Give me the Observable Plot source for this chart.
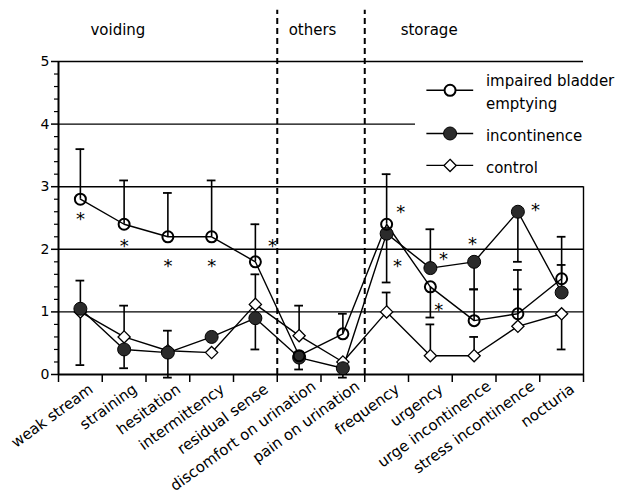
<!DOCTYPE html>
<html>
<head>
<meta charset="utf-8">
<script src="https://cdn.jsdelivr.net/npm/d3@7"></script>
<script src="https://cdn.jsdelivr.net/npm/@observablehq/plot@0.6"></script>
<style>
  html, body { margin: 0; padding: 0; background: #fff; }
</style>
</head>
<body>
<div id="chart"></div>
<script>
const categories = ["weak stream","straining","hesitation","intermittency","residual sense","discomfort on urination","pain on urination","frequency","urgency","urge incontinence","stress incontinence","nocturia"];
const impaired     = [2.8, 2.4, 2.2, 2.2, 1.8, 0.3, 0.65, 2.4, 1.4, 0.86, 0.97, 1.53];
const incontinence = [1.05, 0.4, 0.35, 0.6, 0.9, 0.27, 0.1, 2.25, 1.7, 1.8, 2.6, 1.31];
const control      = [1.0, 0.6, 0.38, 0.35, 1.12, 0.62, 0.2, 1.0, 0.3, 0.3, 0.77, 0.97];

// error bars: category index, from (mean), to (cap)
const errCat  = [0,0,0, 1,1,1, 2,2,2, 3, 4,4,4, 5,5, 6,6, 7,7,7, 8,8,8, 9,9,9, 10,10,10, 11,11,11];
const errFrom = [2.8,1.05,1.05, 2.4,0.6,0.4, 2.2,0.35,0.35, 2.2, 1.8,1.12,0.9, 0.62,0.27, 0.65,0.1, 2.4,2.25,1.0, 1.7,1.4,0.3, 1.8,0.86,0.3, 2.6,0.97,0.77, 1.53,1.31,0.97];
const errTo   = [3.6,1.5,0.15, 3.1,1.1,0.1, 2.9,0.7,-0.05, 3.1, 2.4,1.6,0.4, 1.1,0.08, 0.97,-0.05, 3.2,1.47,1.31, 2.32,0.91,0.8, 1.36,1.36,0.6, 1.8,1.67,1.36, 2.2,1.75,0.4];

// significance asterisks (fractional category index, value)
const astX = [0, 1, 2, 3, 4.39, 7.32, 7.25, 8.3, 8.19, 8.96, 10.4];
const astY = [2.54, 2.12, 1.8, 1.8, 2.12, 2.65, 1.79, 1.9, 1.09, 2.14, 2.68];

const groupNames = ["voiding", "others", "storage"];
const groupStart = [0.23, 4.76, 7.32];
const groupBreaks = [4.5, 6.5];

const yTicks = [0, 1, 2, 3, 4, 5];
const legendNames = ["impaired bladder\nemptying", "incontinence", "control"];

const rows = categories.map((c, i) => ({i, c, imp: impaired[i], inc: incontinence[i], ctl: control[i]}));
const errs = errCat.map((c, k) => ({i: c, from: errFrom[k], to: errTo[k]}));
const asts = astX.map((x, k) => ({x, y: astY[k]}));
const groups = groupNames.map((g, k) => ({g, x: groupStart[k]}));
const boundaries = d3.range(-0.5, categories.length, 1);
const minorTicks = d3.range(0, 5.001, 0.2).map(v => +v.toFixed(1)).filter(v => !Number.isInteger(v));
const shortLabels = rows.filter(d => d.c.length <= 15);
const longLabels = rows.filter(d => d.c.length > 15);

// legend layout (data coordinates inside the frame)
const legY = [4.54, 3.85, 3.34];
const leg = legendNames.map((n, k) => ({n, y: legY[k], k}));
const legX1 = 7.92, legX2 = 8.99, legXm = 8.45, legXt = 9.27;

const chart = Plot.plot({
  width: 623,
  height: 495,
  marginLeft: 58,
  marginRight: 40,
  marginTop: 61,
  marginBottom: 121,
  x: {domain: [-0.5, 11.5]},
  y: {domain: [0, 5]},
  style: {fontFamily: "DejaVu Sans", fontSize: "15px", color: "black", background: "white"},
  marks: [
    // gridlines / frame
    Plot.ruleY([1, 2, 3, 5], {y: d => d, x1: -0.5, x2: 11.5, stroke: "black", strokeWidth: 1.4}),
    Plot.ruleY([4], {y: d => d, x1: -0.5, x2: 7.66, stroke: "black", strokeWidth: 1.4}),
    Plot.ruleX([11.5], {x: d => d, y1: 0, y2: 3, stroke: "black", strokeWidth: 1.4}),
    Plot.ruleX([-0.5], {x: d => d, y1: 0, y2: 5, stroke: "black", strokeWidth: 2}),
    Plot.ruleY([0], {y: d => d, x1: -0.5, x2: 11.5, stroke: "black", strokeWidth: 2}),
    // group separators
    Plot.ruleX(groupBreaks, {x: d => d, y1: 0, y2: 5.82, stroke: "black", strokeWidth: 2, strokeDasharray: "6,4"}),
    Plot.text(groups, {x: "x", y: () => 5.5, text: "g", textAnchor: "start", fontSize: 15, fill: "black"}),
    // axes
    Plot.axisY({ticks: yTicks, tickSize: 7, tickPadding: 2, fontSize: 14, strokeWidth: 1.5, tickFormat: d => d, label: null, fill: "black"}),
    Plot.axisY({ticks: minorTicks, tickSize: 4, strokeWidth: 1.2, tickFormat: () => "", label: null}),
    Plot.axisX({ticks: boundaries, tickSize: 8, strokeWidth: 1.5, tickFormat: () => "", label: null}),
    Plot.text(shortLabels, {x: "i", y: () => 0, text: "c", rotate: -36, textAnchor: "end", lineAnchor: "middle", dx: 11, dy: 13, fontSize: 15, fill: "black"}),
    Plot.text(longLabels, {x: "i", y: () => 0, text: "c", rotate: -36, textAnchor: "end", lineAnchor: "middle", dx: 15, dy: 10, fontSize: 15, fill: "black"}),
    // series lines
    Plot.line(rows, {x: "i", y: "imp", stroke: "black", strokeWidth: 1.4}),
    Plot.line(rows, {x: "i", y: "inc", stroke: "black", strokeWidth: 1.4}),
    Plot.line(rows, {x: "i", y: "ctl", stroke: "black", strokeWidth: 1.4}),
    // error bars
    Plot.ruleX(errs, {x: "i", y1: "from", y2: "to", stroke: "black", strokeWidth: 1.6}),
    Plot.ruleY(errs, {y: "to", x1: d => d.i - 0.1, x2: d => d.i + 0.1, stroke: "black", strokeWidth: 1.8}),
    // markers
    Plot.dot(rows, {x: "i", y: "ctl", symbol: "diamond2", r: 5.5, fill: "white", stroke: "black", strokeWidth: 1.3}),
    Plot.dot(rows, {x: "i", y: "inc", r: 6.5, fill: "#2b2b2b", stroke: "black", strokeWidth: 1}),
    Plot.dot(rows, {x: "i", y: "imp", r: 5.5, fill: "none", stroke: "black", strokeWidth: 2}),
    // asterisks
    Plot.text(asts, {x: "x", y: "y", text: () => "*", fontSize: 18, lineAnchor: "middle", dy: 4, fill: "black"}),
    // legend
    Plot.ruleY(leg, {y: "y", x1: legX1, x2: legX2, stroke: "black", strokeWidth: 1.4}),
    Plot.dot(leg.filter(d => d.k === 0), {x: () => legXm, y: "y", r: 5.5, fill: "white", stroke: "black", strokeWidth: 2}),
    Plot.dot(leg.filter(d => d.k === 1), {x: () => legXm, y: "y", r: 6.5, fill: "#2b2b2b", stroke: "black", strokeWidth: 1}),
    Plot.dot(leg.filter(d => d.k === 2), {x: () => legXm, y: "y", symbol: "diamond2", r: 5.5, fill: "white", stroke: "black", strokeWidth: 1.3}),
    Plot.text(leg, {x: () => legXt, y: "y", text: "n", textAnchor: "start", lineAnchor: "middle", lineHeight: 1.5, fontSize: 15, fill: "black"})
  ]
});
document.getElementById("chart").appendChild(chart);
</script>
</body>
</html>
